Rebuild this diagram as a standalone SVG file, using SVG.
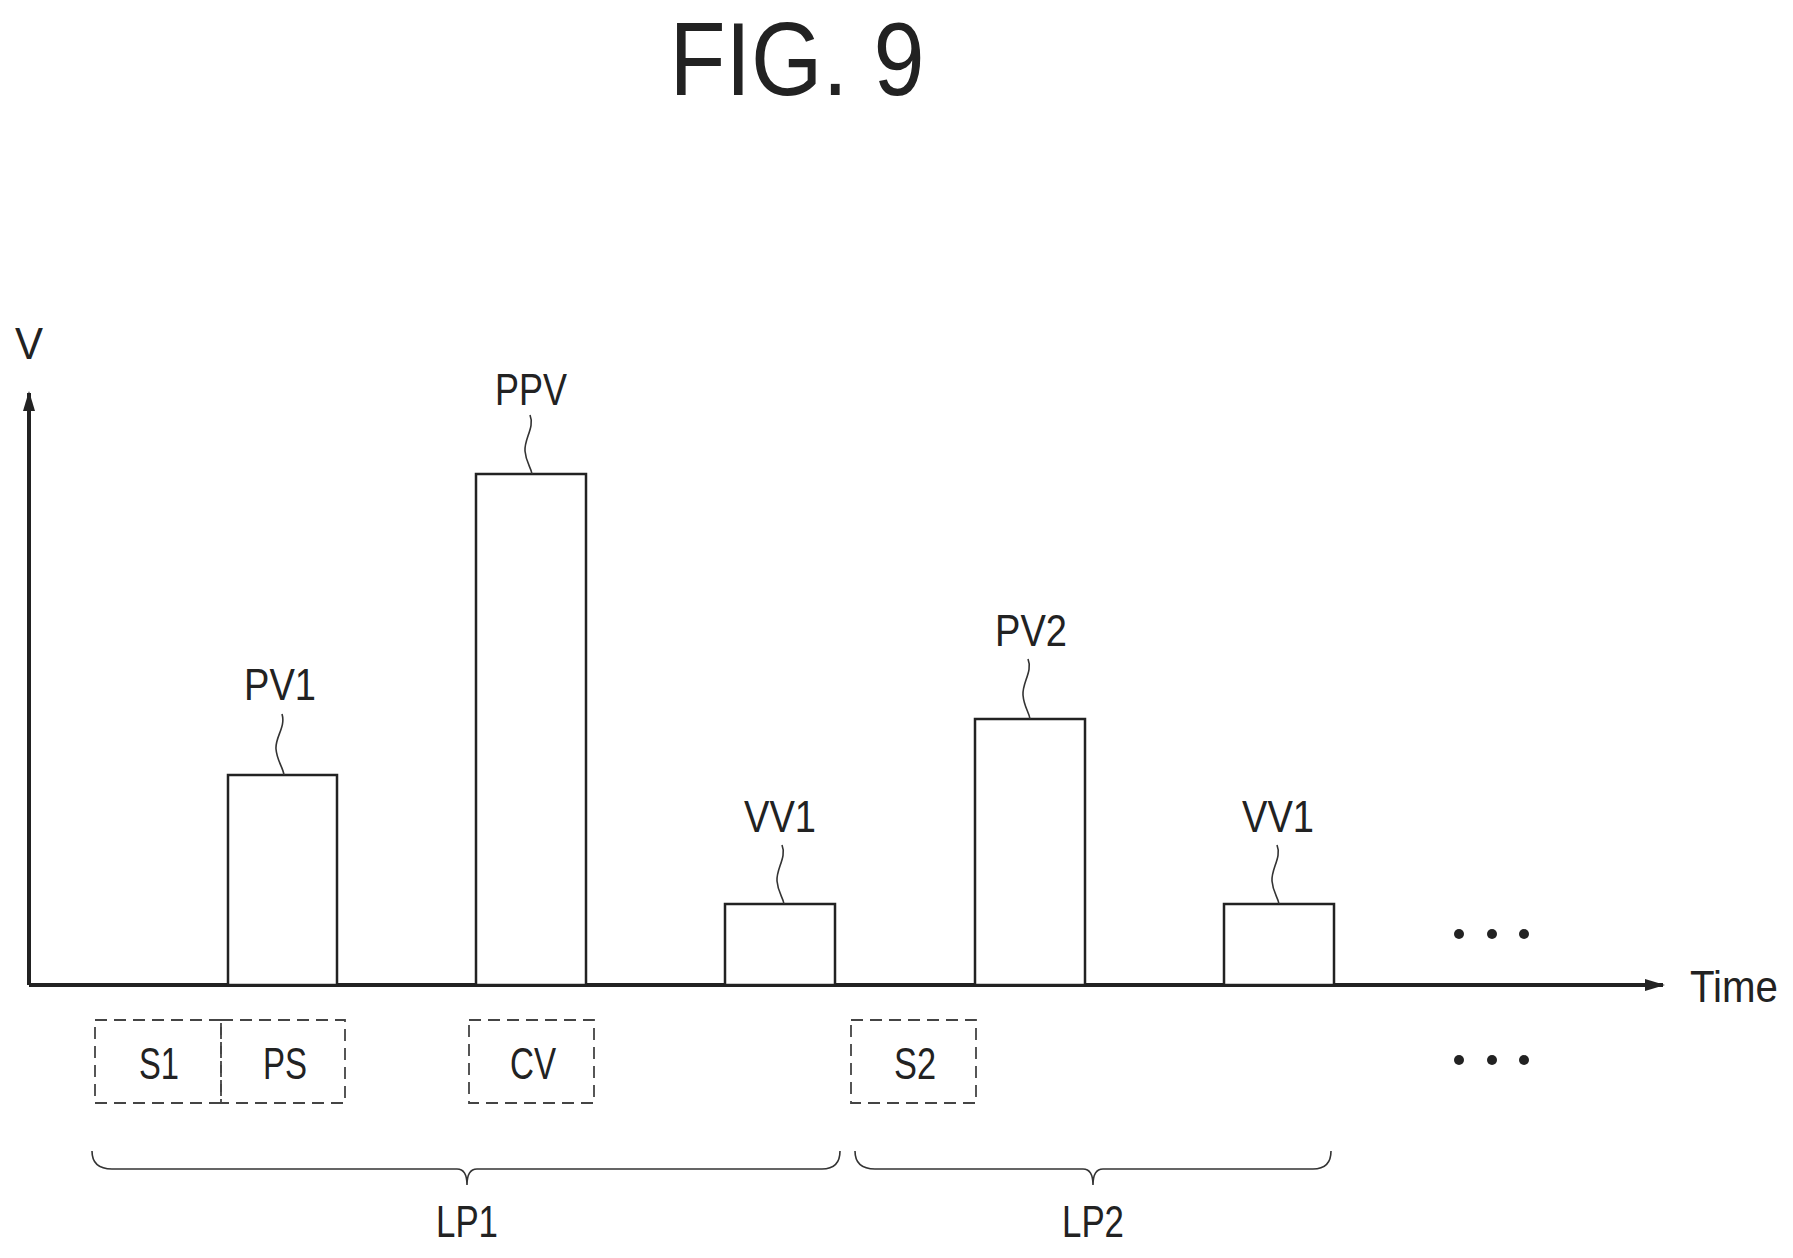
<svg xmlns="http://www.w3.org/2000/svg" width="1793" height="1258" viewBox="0 0 1793 1258">
<defs>
<style>
.t{font-family:"Liberation Sans",Arial,sans-serif;font-size:44px;fill:#222;text-anchor:middle}
.bar{fill:#fff;stroke:#222;stroke-width:2.5}
.box{fill:none;stroke:#444;stroke-width:1.8;stroke-dasharray:12 7}
.ln{fill:none;stroke:#333;stroke-width:1.6}
.ax{stroke:#222;stroke-width:4;fill:none}
</style>
<marker id="ah" markerWidth="20" markerHeight="12" refX="18" refY="6" orient="auto" markerUnits="userSpaceOnUse" viewBox="0 0 20 12"><path d="M0,0 L20,6 L0,12 Z" fill="#222"/></marker>
</defs>
<rect width="1793" height="1258" fill="#fff"/>
<g transform="translate(-3,-3)">
<text x="800" y="98" class="t" style="font-size:104px" textLength="255" lengthAdjust="spacingAndGlyphs">FIG. 9</text>
<g id="axes">
<line class="ax" x1="32" y1="988" x2="32" y2="396" marker-end="url(#ah)"/>
<line class="ax" x1="32" y1="988" x2="1666" y2="988" marker-end="url(#ah)"/>
<text x="32" y="362" class="t" textLength="28" lengthAdjust="spacingAndGlyphs">V</text>
<text x="1737" y="1005" class="t" textLength="88" lengthAdjust="spacingAndGlyphs">Time</text>
</g>
<g id="PV1"><rect class="bar" x="231" y="778" width="109" height="210"/><text x="283" y="703" class="t" textLength="72" lengthAdjust="spacingAndGlyphs">PV1</text></g>
<g id="PPV"><rect class="bar" x="479" y="477" width="110" height="511"/><text x="534" y="408" class="t" textLength="72" lengthAdjust="spacingAndGlyphs">PPV</text></g>
<g id="VV1a"><rect class="bar" x="728" y="907" width="110" height="81"/><text x="783" y="835" class="t" textLength="72" lengthAdjust="spacingAndGlyphs">VV1</text></g>
<g id="PV2"><rect class="bar" x="978" y="722" width="110" height="266"/><text x="1034" y="649" class="t" textLength="72" lengthAdjust="spacingAndGlyphs">PV2</text></g>
<g id="VV1b"><rect class="bar" x="1227" y="907" width="110" height="81"/><text x="1281" y="835" class="t" textLength="72" lengthAdjust="spacingAndGlyphs">VV1</text></g>
<g id="connectors">
<path class="ln" d="M285,717 C289,730 278,740 279,752 C280,764 286,770 287,778"/>
<path class="ln" d="M533,418 C538,430 527,442 528,454 C529,466 534,470 535,477"/>
<path class="ln" d="M785,848 C790,860 779,872 780,884 C781,896 786,900 787,907"/>
<path class="ln" d="M1031,662 C1036,674 1025,686 1026,698 C1027,710 1032,715 1033,722"/>
<path class="ln" d="M1280,848 C1285,860 1274,872 1275,884 C1276,896 1281,900 1282,907"/>
</g>
<g id="dots1" fill="#222"><circle cx="1462" cy="937" r="5"/><circle cx="1495" cy="937" r="5"/><circle cx="1527" cy="937" r="5"/></g>
<g id="dots2" fill="#222"><circle cx="1462" cy="1063" r="5"/><circle cx="1495" cy="1063" r="5"/><circle cx="1527" cy="1063" r="5"/></g>
<g id="S1"><rect class="box" x="98" y="1023" width="126" height="83"/><text x="162" y="1082" class="t" textLength="40" lengthAdjust="spacingAndGlyphs">S1</text></g>
<g id="PS"><rect class="box" x="224" y="1023" width="124" height="83"/><text x="288" y="1082" class="t" textLength="44" lengthAdjust="spacingAndGlyphs">PS</text></g>
<g id="CV"><rect class="box" x="472" y="1023" width="125" height="83"/><text x="536" y="1082" class="t" textLength="46" lengthAdjust="spacingAndGlyphs">CV</text></g>
<g id="S2"><rect class="box" x="854" y="1023" width="125" height="83"/><text x="918" y="1082" class="t" textLength="42" lengthAdjust="spacingAndGlyphs">S2</text></g>
<g id="LP1"><path class="ln" d="M95,1154 Q95,1172 115,1172 L460,1172 Q470,1172 470,1188 Q470,1172 480,1172 L825,1172 Q843,1172 843,1154"/><text x="470" y="1240" class="t" textLength="62" lengthAdjust="spacingAndGlyphs">LP1</text></g>
<g id="LP2"><path class="ln" d="M858,1154 Q858,1172 878,1172 L1086,1172 Q1096,1172 1096,1188 Q1096,1172 1106,1172 L1316,1172 Q1334,1172 1334,1154"/><text x="1096" y="1240" class="t" textLength="62" lengthAdjust="spacingAndGlyphs">LP2</text></g>
</g>
</svg>
